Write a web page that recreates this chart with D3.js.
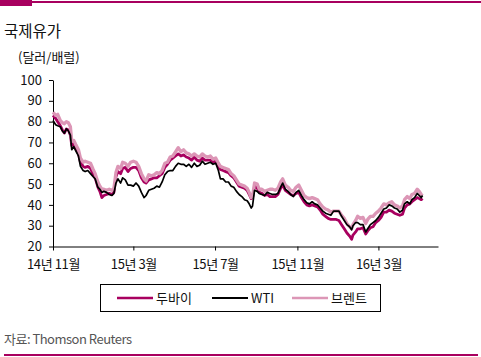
<!DOCTYPE html>
<html><head><meta charset="utf-8">
<script src="https://cdn.jsdelivr.net/npm/d3@7"></script>
<style>
html,body{margin:0;padding:0;background:#fff;}
svg{display:block;font-family:"Noto Sans CJK KR","Noto Sans",sans-serif;}
</style></head>
<body>
<svg id="c" width="481" height="357"></svg>
<script>
const dates = ["2014-11-01","2014-11-05","2014-11-08","2014-11-12","2014-11-15","2014-11-18","2014-11-21","2014-11-24","2014-11-27","2014-11-29",
"2014-12-02","2014-12-05","2014-12-09","2014-12-12","2014-12-16","2014-12-19","2014-12-23","2014-12-27","2014-12-31",
"2015-01-03","2015-01-07","2015-01-10","2015-01-13","2015-01-16","2015-01-20","2015-01-24","2015-01-28","2015-01-31",
"2015-02-03","2015-02-06","2015-02-10","2015-02-13","2015-02-17","2015-02-21","2015-02-25",
"2015-03-01","2015-03-05","2015-03-09","2015-03-13","2015-03-17","2015-03-20","2015-03-24","2015-03-28",
"2015-04-01","2015-04-05","2015-04-09","2015-04-13","2015-04-17","2015-04-21","2015-04-25","2015-04-29",
"2015-05-03","2015-05-07","2015-05-11","2015-05-15","2015-05-19","2015-05-23","2015-05-27","2015-05-31",
"2015-06-04","2015-06-08","2015-06-12","2015-06-16","2015-06-20","2015-06-24","2015-06-28",
"2015-07-02","2015-07-06","2015-07-09","2015-07-13","2015-07-17","2015-07-21","2015-07-25","2015-07-29",
"2015-08-02","2015-08-06","2015-08-10","2015-08-14","2015-08-18","2015-08-21","2015-08-24","2015-08-26","2015-08-29",
"2015-09-02","2015-09-05","2015-09-09","2015-09-13","2015-09-17","2015-09-21","2015-09-25","2015-09-29",
"2015-10-03","2015-10-07","2015-10-10","2015-10-14","2015-10-18","2015-10-22","2015-10-26","2015-10-30",
"2015-11-03","2015-11-07","2015-11-11","2015-11-15","2015-11-19","2015-11-23","2015-11-27",
"2015-12-01","2015-12-05","2015-12-09","2015-12-13","2015-12-17","2015-12-21","2015-12-25","2015-12-29",
"2016-01-02","2016-01-06","2016-01-10","2016-01-14","2016-01-18","2016-01-21","2016-01-23","2016-01-27","2016-01-30",
"2016-02-03","2016-02-07","2016-02-11","2016-02-14","2016-02-18","2016-02-22","2016-02-26",
"2016-03-01","2016-03-05","2016-03-09","2016-03-13","2016-03-17","2016-03-21","2016-03-25","2016-03-29",
"2016-04-02","2016-04-06","2016-04-09","2016-04-13","2016-04-17","2016-04-20","2016-04-24","2016-04-28",
"2016-05-01","2016-05-04","2016-05-06"];

const brent = [84.5,83.0,83.5,80.5,79.5,79.0,80.0,79.5,77.5,70.5,
71.0,69.0,66.5,62.5,60.5,61.0,60.5,60.0,57.0,
55.0,51.0,49.0,47.5,47.5,47.0,47.5,47.0,48.0,
55.5,58.5,57.5,60.5,60.0,58.5,60.5,
61.0,60.5,58.5,55.0,52.5,51.5,54.5,54.0,
54.5,55.5,55.0,56.5,60.0,60.5,63.0,63.5,
65.5,67.5,65.5,66.5,65.0,64.5,63.5,64.5,
63.5,63.0,64.5,63.5,63.0,63.5,62.0,
62.5,60.0,58.5,58.0,57.5,57.0,55.0,54.0,
52.0,50.0,49.5,49.0,48.0,46.0,43.5,44.0,50.5,
50.0,47.5,47.5,46.5,47.0,47.5,47.5,47.0,
48.0,51.0,52.5,49.5,48.5,47.0,46.5,48.5,
49.5,47.0,44.5,43.5,43.0,43.5,43.0,
42.5,40.5,39.0,38.0,37.5,36.5,37.0,37.0,
37.0,35.0,33.5,31.0,29.5,28.5,30.5,32.5,34.5,
33.5,34.0,31.0,33.0,34.5,34.5,36.0,
37.0,38.5,40.5,40.0,41.0,41.5,40.0,39.5,
38.5,39.5,42.5,44.0,43.0,45.0,45.5,47.5,
46.5,45.0,45.5];

const dubai = [83.0,81.5,80.0,78.0,76.0,74.5,76.5,76.0,73.5,68.5,
69.5,67.0,64.5,60.5,58.5,58.0,58.5,57.5,54.5,
53.0,48.5,46.5,43.5,44.5,45.0,45.5,45.0,46.0,
53.5,56.0,55.0,57.5,58.0,56.0,57.5,
58.0,58.0,56.5,53.0,51.0,50.5,52.0,52.5,
53.0,53.0,54.0,55.0,58.0,59.5,61.5,62.5,
63.5,64.5,63.5,64.0,63.0,62.5,61.5,63.0,
61.5,61.0,62.5,61.5,61.5,61.5,60.5,
61.0,58.5,57.0,56.5,56.0,55.5,54.0,53.0,
51.0,49.0,48.5,48.0,47.0,45.0,43.0,43.5,49.0,
48.0,46.0,45.5,44.5,45.0,44.0,44.0,44.0,
45.0,48.0,49.5,47.0,46.0,45.0,44.5,45.5,
46.0,43.5,41.5,40.0,39.5,40.0,39.5,
39.0,37.5,35.5,34.5,33.5,33.0,33.0,33.0,
32.5,30.5,28.5,26.5,25.0,23.5,25.5,27.0,28.5,
28.5,29.0,26.0,27.5,29.0,29.5,31.5,
32.5,34.0,36.5,36.5,37.5,37.0,36.0,35.5,
35.0,35.5,38.5,40.0,40.5,41.5,42.5,43.5,
43.0,42.5,43.0];

const wti = [80.5,78.5,78.0,77.5,75.5,74.5,76.5,75.5,73.5,66.5,
68.0,66.0,63.5,58.5,56.5,56.0,56.5,55.0,53.5,
52.5,48.5,47.5,46.0,46.5,46.0,45.0,44.5,45.5,
50.5,52.5,50.5,53.0,52.0,49.5,49.5,
49.0,50.5,49.0,46.0,43.5,44.5,47.0,47.5,
48.0,49.0,48.5,51.0,54.5,56.0,56.5,56.5,
58.5,60.0,59.5,59.5,58.5,59.5,58.0,60.0,
58.5,59.0,61.0,59.5,60.0,60.5,59.5,
60.0,56.5,52.5,52.5,51.0,51.0,49.0,48.5,
46.5,45.0,44.0,42.5,42.0,40.5,38.5,39.5,47.0,
46.5,45.5,45.0,44.5,46.0,45.5,45.0,45.0,
45.5,48.5,50.5,47.5,46.5,45.0,44.0,46.0,
47.0,44.5,42.5,41.0,40.5,41.5,40.5,
40.0,38.5,37.0,36.0,35.5,35.0,37.0,37.0,
37.0,34.5,32.5,30.5,29.5,28.0,30.0,31.5,31.5,
30.5,30.5,27.0,28.5,30.5,31.5,32.5,
34.0,36.0,38.0,38.5,40.0,39.5,38.5,38.0,
36.5,37.5,40.5,41.5,40.5,42.5,43.5,45.5,
44.5,43.5,44.5];

const yTicks = [20,30,40,50,60,70,80,90,100];
const xTickDates = ["2014-11-01","2015-03-01","2015-07-01","2015-11-01","2016-03-01"];
const xTickLabels = ["14년 11월","15년 3월","15년 7월","15년 11월","16년 3월"];
const seriesNames = ["두바이","WTI","브렌트"];

const parse = d3.timeParse("%Y-%m-%d");
const svg = d3.select("#c");
const MAG = "#a8005f", PINK = "#dc96b6";

// header bar
svg.append("rect").attr("x",0).attr("y",1).attr("width",481).attr("height",2).attr("fill",MAG);
svg.append("rect").attr("x",0).attr("y",0).attr("width",32).attr("height",6).attr("fill",MAG);
// footer bar
svg.append("rect").attr("x",4).attr("y",354).attr("width",474).attr("height",2).attr("fill",MAG);

svg.append("text").attr("x",4).attr("y",37).attr("font-size",15.5).attr("fill","#111").text("국제유가");
svg.append("text").attr("x",18).attr("y",62).attr("font-size",13).attr("fill","#111").text("(달러/배럴)");

const x = d3.scaleTime().domain([parse("2014-11-01"), parse("2016-05-29")]).range([53,438]);
const y = d3.scaleLinear().domain([20,100]).range([246.5,80]);

const yAxis = svg.append("g").attr("transform","translate(53,0)")
  .call(d3.axisLeft(y).tickValues(yTicks).tickSize(4).tickPadding(7).tickSizeOuter(0));
yAxis.selectAll("text").attr("font-size",13).attr("fill","#111").attr("font-family",'"Noto Sans CJK KR",sans-serif');
yAxis.selectAll("line,path").attr("stroke","#000");

const xAxis = svg.append("g").attr("transform","translate(0,246.5)")
  .call(d3.axisBottom(x).tickValues(xTickDates.map(parse)).tickFormat((d,i)=>xTickLabels[i]).tickSize(4).tickPadding(9).tickSizeOuter(0));
xAxis.selectAll("text").attr("font-size",13).attr("fill","#111").attr("letter-spacing","-0.4px").attr("font-family",'"Noto Sans CJK KR",sans-serif');
xAxis.selectAll("line,path").attr("stroke","#000");

const pts = dates.map(parse);
const line = vals => d3.line().x((d,i)=>x(pts[i])).y(d=>y(d))(vals);

svg.append("path").attr("d",line(dubai)).attr("fill","none").attr("stroke",MAG).attr("stroke-width",2.8).attr("stroke-linejoin","round");
svg.append("path").attr("d",line(brent)).attr("fill","none").attr("stroke",PINK).attr("stroke-width",3.3).attr("stroke-linejoin","round");
svg.append("path").attr("d",line(wti)).attr("fill","none").attr("stroke","#000").attr("stroke-width",1.7).attr("stroke-linejoin","round");

// legend
svg.append("rect").attr("x",100.5).attr("y",284.5).attr("width",280).attr("height",27).attr("fill","#fff").attr("stroke","#000").attr("stroke-width",1);
const leg = [{n:seriesNames[0],c:MAG,w:2.5,x:117},{n:seriesNames[1],c:"#000",w:2,x:212},{n:seriesNames[2],c:PINK,w:2.7,x:292}];
leg.forEach(l=>{
  svg.append("line").attr("x1",l.x).attr("x2",l.x+36).attr("y1",298).attr("y2",298).attr("stroke",l.c).attr("stroke-width",l.w);
  svg.append("text").attr("x",l.x+39).attr("y",303).attr("font-size",13).attr("fill","#111").text(l.n);
});

svg.append("text").attr("x",4).attr("y",344).attr("font-size",13).attr("fill","#555").attr("letter-spacing","-0.5px").text("자료: Thomson Reuters");
</script>
</body></html>
